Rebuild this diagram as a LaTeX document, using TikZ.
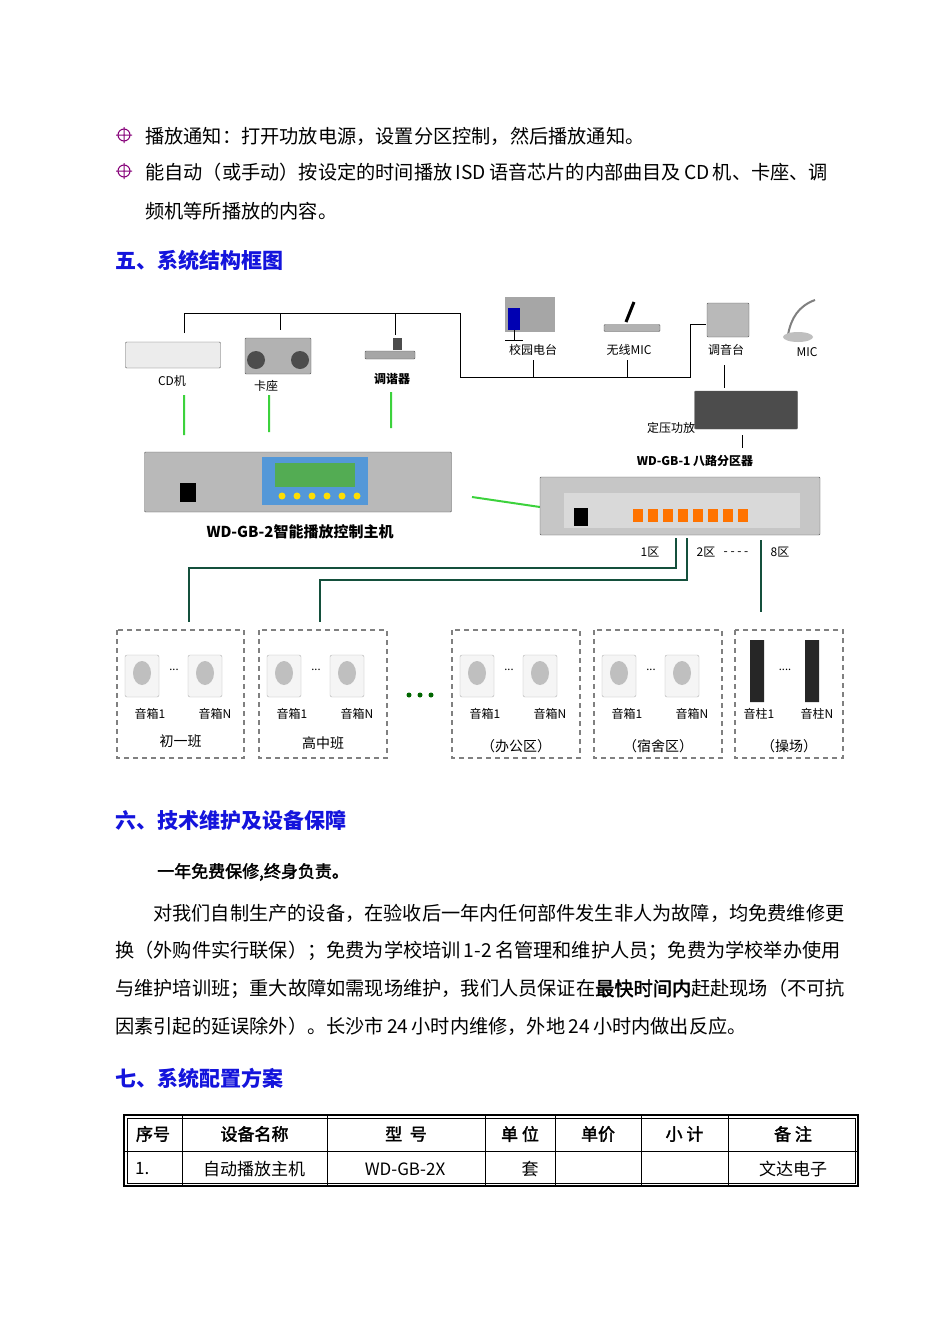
\documentclass[tikz,border=0pt]{standalone}
\usepackage{fontspec}
\setmainfont{Noto Sans CJK SC}
\newfontfamily\cjkb{Noto Sans CJK SC}[FakeBold=2]
\begin{document}
\begin{tikzpicture}[x=1pt,y=-1pt,
 body/.style={anchor=west,inner sep=0,font=\fontsize{19.2}{19}\selectfont},
 head/.style={anchor=west,inner sep=0,text={rgb,255:red,20;green,20;blue,220},font=\fontsize{21}{21}\selectfont\bfseries},
 small/.style={inner sep=0,font=\fontsize{12}{12}\selectfont},
 grn/.style={draw={rgb,255:red,60;green,210;blue,60},line width=2pt},
 blk/.style={draw=black,line width=1pt},
 dk/.style={draw={rgb,255:red,20;green,80;blue,60},line width=2pt},
 zone/.style={draw=gray,dashed,line width=1.3pt,dash pattern=on 5pt off 4pt},
 dev/.style={draw=gray!70!black,fill=gray!45,rounded corners=1pt},
 cell/.style={inner sep=0,font=\fontsize{17}{17}\selectfont}]
\useasboundingbox (0,0) rectangle (950,1344);
\fill[white] (0,0) rectangle (950,1344);
% bullets
\foreach \y in {135,171}{\draw[purple!70!blue,line width=1pt] (124,\y) circle (6pt) (116,\y)--(132,\y) (124,\y-8)--(124,\y+8);}
\node[body] (t1) at (145,136) {播放通知：打开功放电源，设置分区控制，然后播放通知。};
\node[body] (t2) at (145,172) {能自动（或手动）按设定的时间播放\,ISD\,语音芯片的内部曲目及\,CD\,机、卡座、调};
\node[body] (t3) at (145,211) {频机等所播放的内容。};
\node[head] (h5) at (115,260) {五、系统结构框图};
% top black lines
\coordinate (a1) at (184,313); \coordinate (a2) at (460,313);
\draw[blk] (184,333)--(a1)--(a2)--(460,377)--(690,377)--(690,324)--(706,324);
\draw[blk] (280,313)--(280,330) (395,313)--(395,335) (533,360)--(533,377) (627,360)--(627,377);
\draw[blk] (724,365)--(724,388) (742,435)--(742,448);
% devices top
\node[dev,minimum width=95pt,minimum height=26pt,fill=gray!15] (cd) at (173,355) {};
\node[small] (cdl) at (172,381) {CD机};
\node[dev,minimum width=66pt,minimum height=36pt,fill=gray!60] (kz) at (278,356) {};
\fill[black!70] (256,360) circle (9pt) (300,360) circle (9pt);
\node[small] (kzl) at (266,386) {卡座};
\node[dev,minimum width=50pt,minimum height=8pt,fill=gray!70] (tx) at (390,355) {};
\fill[gray!60!black] (393,338) rectangle (402,350);
\node[small,font=\fontsize{12}{12}\selectfont\bfseries] (txl) at (392,379) {调谐器};
\fill[gray!70] (505,297) rectangle (555,332); \fill[blue!70!black] (508,308) rectangle (520,330);
\draw[black,line width=1pt] (514,330)--(514,340) (505,340)--(523,340);
\node[small] (xy) at (533,350) {校园电台};
\node[dev,minimum width=56pt,minimum height=7pt,fill=gray!60] (wm) at (632,328) {};
\draw[black,line width=3pt] (626,322)--(634,302);
\node[small] (wml) at (629,350) {无线MIC};
\node[dev,minimum width=42pt,minimum height=34pt,fill=gray!55] (ty) at (728,320) {};
\node[small] (tyl) at (726,350) {调音台};
\draw[gray,line width=2pt] (788,335) to[out=80,in=200] (815,300);
\fill[gray!50] (798,337) ellipse (15pt and 5pt);
\node[small] (mic) at (807,352) {MIC};
\node[dev,minimum width=103pt,minimum height=38pt,fill=gray!60!black] (amp) at (746,410) {};
\node[small] (ampl) at (671,428) {定压功放};
\node[small,font=\fontsize{12}{12}\selectfont\bfseries] (dl) at (695,461) {WD-GB-1 八路分区器};
% green
\draw[grn] (184,395)--(184,435) (269,395)--(269,432) (391,392)--(391,428) (472,497)--(540,507);
% host
\node[dev,minimum width=307pt,minimum height=60pt,fill=gray!55] (host) at (298,482) {};
\fill[cyan!60!blue!70] (262,457) rectangle (368,505);
\fill[green!35!gray] (275,463) rectangle (355,487);
\foreach \x in {282,297,312,327,342,357}{\fill[yellow!80!orange] (\x,496) circle (3.5pt);}
\fill[black] (180,483) rectangle (196,502);
\node[small,font=\fontsize{15}{15}\selectfont\bfseries] (hl) at (300,532) {WD-GB-2智能播放控制主机};
% distributor
\node[dev,minimum width=280pt,minimum height=58pt,fill=gray!45] (dist) at (680,506) {};
\fill[gray!30] (564,493) rectangle (800,528);
\foreach \i in {0,...,7}{\fill[orange!90!red] (633+\i*15,509) rectangle (643+\i*15,522);}
\fill[black] (574,508) rectangle (588,526);
% zones
\node[small] (z1) at (650,552) {1区};
\node[small] (z2) at (706,552) {2区};
\node[small] (zd) at (736,554) {- - - -};
\node[small] (z8) at (780,552) {8区};
\draw[dk] (676,538)--(676,568)--(189,568)--(189,622);
\draw[dk] (687,538)--(687,580)--(320,580)--(320,622);
\draw[dk] (761,540)--(761,612);
\foreach \xa/\xb/\lab/\yl in {117/244/初一班/741,259/387/高中班/743,452/580/（办公区）/746,594/722/（宿舍区）/746,735/843/（操场）/746}{
 \draw[zone] (\xa,630) rectangle (\xb,758);
 \node[small,font=\fontsize{14}{14}\selectfont] at ({(\xa+\xb)/2},\yl) {\lab};}
\foreach \xa in {117,259,452,594}{
 \foreach \d in {0,63}{\draw[gray!60,fill=gray!8,rounded corners=2pt] (\xa+8+\d,655) rectangle (\xa+42+\d,697);
  \fill[gray!50] (\xa+25+\d,673) ellipse (9pt and 12pt);}
 \node[small,font=\fontsize{11}{11}\selectfont] at (\xa+57,670) {...};
 \node[small] at (\xa+33,714) {音箱1}; \node[small] at (\xa+98,714) {音箱N};}
\fill[black!85] (750,640) rectangle (764,702) (805,640) rectangle (819,702);
\node[small,font=\fontsize{11}{11}\selectfont] at (785,670) {....};
\node[small] at (759,714) {音柱1}; \node[small] at (817,714) {音柱N};
\foreach \x in {409,420,431}{\fill[green!40!black] (\x,695) circle (2.5pt);}
% section 6
\node[head] (h6) at (115,820) {六、技术维护及设备保障};
\node[body,font=\fontsize{17}{17}\selectfont\cjkb] (b1) at (157,872) {一年免费保修,终身负责。};
\node[body] (p1) at (153,913) {对我们自制生产的设备，在验收后一年内任何部件发生非人为故障，均免费维修更};
\node[body] (p2) at (115,951) {换（外购件实行联保）；免费为学校培训\,1-2\,名管理和维护人员；免费为学校举办使用};
\node[body] (p3) at (115,989) {与维护培训班；重大故障如需现场维护，我们人员保证在{\cjkb 最快时间内}赶赴现场（不可抗};
\node[body] (p4) at (115,1026) {因素引起的延误除外）。长沙市\,24\,小时内维修，外地\,24\,小时内做出反应。};
\node[head] (h7) at (115,1078) {七、系统配置方案};
% table
\draw[line width=1.6pt] (124,1115) rectangle (858,1186);
\draw[line width=0.6pt] (127,1118) rectangle (855,1183);
\draw[line width=0.8pt] (124,1151)--(858,1151);
\foreach \x in {182,327,485,555,641,728}{\draw[line width=0.8pt] (\x,1115)--(\x,1186);}
\foreach \xa/\xb/\t in {124/182/序号,182/327/设备名称,327/485/型\ \ 号,485/555/单\ 位,555/641/单价,641/728/小\ 计,728/858/备\ 注}{
 \node[cell,font=\fontsize{17}{17}\selectfont\cjkb] at ({(\xa+\xb)/2},1134) {\t};}
\node[cell,anchor=west] at (135,1169) {1.};
\node[cell] at (254,1169) {自动播放主机};
\node[cell] at (405,1169) {WD-GB-2X};
\node[cell] at (530,1169) {套};
\node[cell] at (793,1169) {文达电子};
\end{tikzpicture}
\end{document}
